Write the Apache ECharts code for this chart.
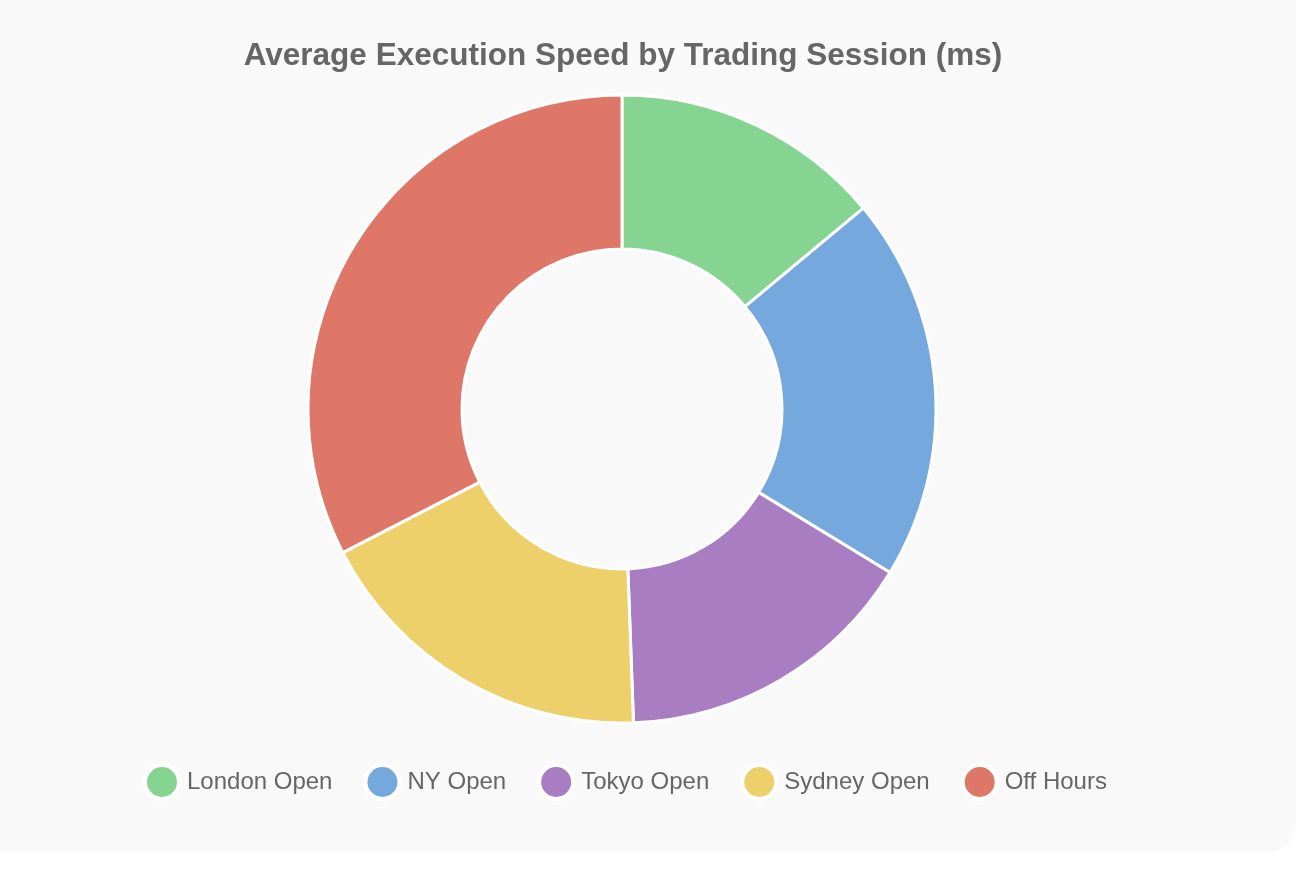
<!DOCTYPE html>
<html>
<head>
<meta charset="utf-8">
<script src="https://cdn.jsdelivr.net/npm/echarts@6/dist/echarts.min.js"></script>
<style>
    html, body { margin: 0; padding: 0; background: #fff; }
    #card {
        width: 1296px;
        height: 852px;
        background: #f9f9f9;
        border-radius: 0 0 28px 0;
    }
    #chart { width: 1296px; height: 852px; }
</style>
</head>
<body>
<div id="card"><div id="chart"></div></div>
<script>
// sessions and avg execution speed (ms)
var sessions = ['London Open', 'NY Open', 'Tokyo Open', 'Sydney Open', 'Off Hours']
var speeds = [12, 17, 13.5, 15.5, 28]
var colors = ['#85d492', '#75a9de', '#a87dc2', '#edd06a', '#de7768']

var chart = echarts.init(document.getElementById('chart'))
var option = {
    title: {
        text: 'Average Execution Speed by Trading Session (ms)',
        left: 618,
        textAlign: 'center',
        top: 35,
        textStyle: {
            fontFamily: 'Liberation Sans, Arial, sans-serif',
            fontSize: 31.5,
            fontWeight: 'bold',
            color: '#666'
        }
    },
    legend: {
        top: 758,
        left: 138,
        icon: 'circle',
        itemWidth: 34,
        itemHeight: 34,
        itemGap: 31,
        data: sessions,
        itemStyle: {
            borderColor: '#fff',
            borderWidth: 4
        },
        textStyle: {
            fontFamily: 'Liberation Sans, Arial, sans-serif',
            fontSize: 24,
            color: '#666',
            padding: [0, 0, 0, 3]
        }
    },
    series: [
        {
            type: 'pie',
            center: [622, 409],
            radius: [160, 314],
            startAngle: 90,
            clockwise: true,
            label: { show: false },
            labelLine: { show: false },
            itemStyle: {
                borderColor: '#fff',
                borderWidth: 3
            },
            emphasis: { scale: false },
            data: sessions.map(function (name, i) {
                return { name: name, value: speeds[i], itemStyle: { color: colors[i] } }
            })
        }
    ]
}
chart.setOption(option)
</script>
</body>
</html>
